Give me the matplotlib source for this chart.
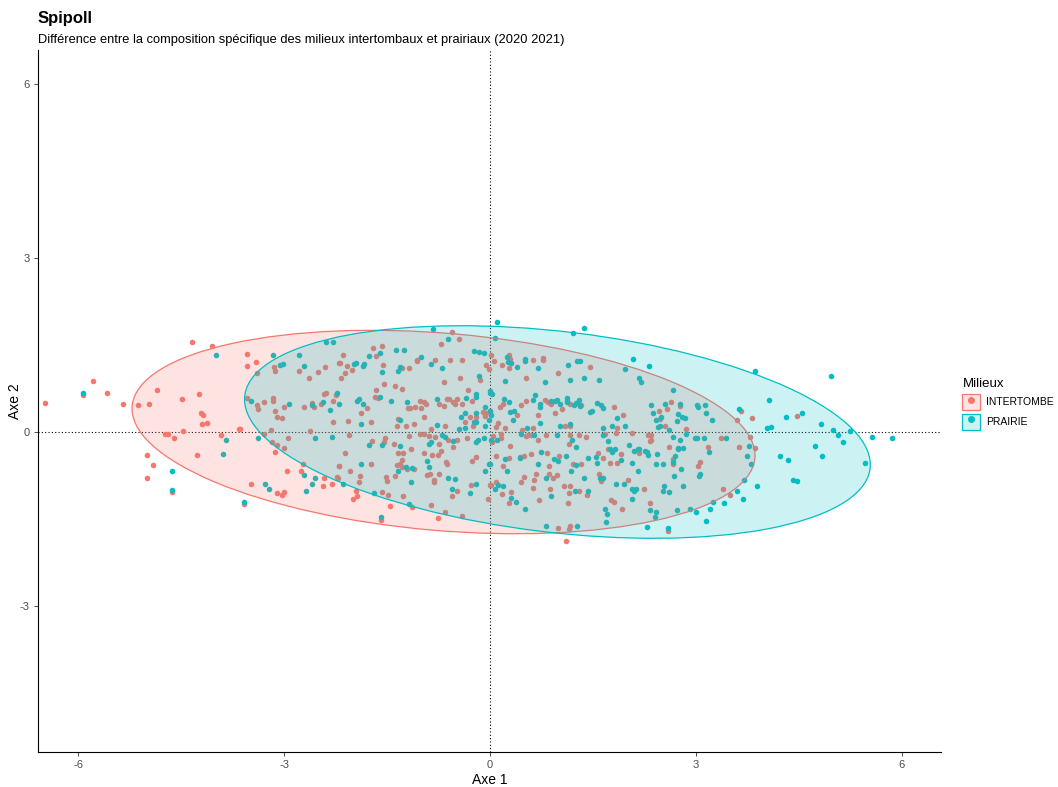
import matplotlib
matplotlib.use('Agg')
import matplotlib.pyplot as plt
from matplotlib.patches import Ellipse, Patch
from matplotlib.lines import Line2D
from matplotlib.legend_handler import HandlerTuple
import numpy as np

plt.rcParams['font.family'] = ['Liberation Sans', 'DejaVu Sans']
plt.rcParams['axes.unicode_minus'] = False

groups = ['INTERTOMBE', 'PRAIRIE']
colors = ['#F8766D', '#00BFC4']

inter_pts = [
    (-6.49, 0.50), (-5.93, 0.63), (-5.79, 0.88), (-5.59, 0.68), (-5.35, 0.49), (-5.13, 0.47), (-4.97, 0.48),
    (-4.86, 0.73), (-4.49, 0.57), (-4.48, 0.01), (-4.35, 1.56), (-4.74, -0.03), (-4.69, -0.03), (-4.61, -0.11),
    (-5.0, -0.39), (-4.92, -0.57), (-5.0, -0.80), (-4.63, -1.04),
    (-4.05, 1.49), (-3.54, 1.34), (-3.55, 1.14), (-3.42, 1.21), (-3.40, 1.01), (-3.15, 1.12), (-3.14, 1.06),
    (-2.78, 1.06), (-2.64, 0.94), (-2.51, 1.03), (-2.41, 1.12), (-2.21, 1.19), (-4.24, 0.65), (-4.22, 0.32),
    (-4.19, 0.30), (-4.20, 0.14), (-4.13, 0.16), (-3.66, 0.06), (-3.64, 0.05), (-3.54, 0.59), (-3.40, 0.46),
    (-3.38, 0.40), (-3.29, 0.51), (-3.17, 0.59), (-3.16, 0.53), (-3.14, 0.37), (-3.11, 0.26), (-3.03, 0.24),
    (-3.01, 0.44), (-2.72, 0.43), (-2.59, 0.50), (-2.57, 0.44), (-2.47, 0.48), (-2.42, 0.66), (-2.40, 0.67),
    (-2.29, 0.53), (-2.29, 0.18), (-2.24, 0.63), (-2.62, 0.02), (-3.20, 0.03),
    (-0.55, 1.72), (-0.45, 1.60), (-0.71, 1.52), (-1.58, 1.49), (-1.71, 1.45), (-1.67, 1.31), (-2.15, 1.33),
    (-2.19, 1.19), (-2.08, 1.14), (-2.01, 1.07), (-1.56, 1.16), (-2.12, 1.01), (-2.18, 0.94), (-1.28, 1.11),
    (-1.18, 1.11), (-1.07, 1.25), (-1.07, 1.22), (-0.81, 1.24), (-0.58, 1.24), (-0.41, 1.24), (-0.06, 1.16),
    (-0.02, 1.09), (-0.15, 0.90), (-0.44, 0.93), (-0.67, 0.87), (-1.55, 0.82), (-1.38, 0.79), (-1.29, 0.75),
    (-1.66, 0.73), (-1.68, 0.61), (-1.64, 0.58), (-1.80, 0.41), (-1.89, 0.33), (-2.07, 0.19), (-1.74, 0.18),
    (-1.20, 0.41), (-1.17, 0.41), (-1.10, 0.44), (-1.02, 0.53), (-0.97, 0.51), (-0.93, 0.49), (-1.01, 0.41),
    (-0.97, 0.26), (-1.35, 0.23), (-1.36, 0.10), (-1.22, 0.10), (-1.11, 0.13), (-0.86, 0.05), (-0.66, 0.10),
    (-0.75, 0.49), (-0.67, 0.45), (-0.63, 0.57), (-0.60, 0.57), (-0.54, 0.51), (-0.52, 0.49), (-0.48, 0.57),
    (-0.41, 0.49), (-0.27, 0.54), (-0.32, 0.73), (-0.30, 0.26), (-0.21, 0.26), (-0.36, 0.18), (-0.25, 0.10),
    (-0.10, 0.34), (-0.07, 0.28), (-0.06, 0.33),
    (0.01, 1.32), (0.06, 1.22), (0.17, 1.15), (0.27, 1.32), (0.29, 1.26), (0.28, 1.11), (0.62, 1.25),
    (0.77, 1.24), (0.77, 1.28), (1.45, 1.12), (0.99, 1.02), (0.52, 0.93), (0.15, 0.44), (0.18, 0.48),
    (0.39, 0.30), (0.45, 0.46), (0.52, 0.53), (0.80, 0.56), (0.84, 0.51), (0.88, 0.49), (1.04, 0.40),
    (0.95, 0.33), (0.69, 0.30), (1.16, 0.48), (1.33, 0.46), (1.81, 0.44), (1.93, 0.29), (0.11, 0.15),
    (0.08, 0.09), (0.21, 0.07), (0.62, 0.07), (0.46, 0.03), (1.09, 0.10), (1.16, 0.11), (1.85, 0.07), (0.0, 0.37),
    (2.64, 0.51), (2.58, 0.40), (2.46, 0.36), (2.77, 0.45), (2.47, 0.23), (2.55, 0.10), (2.85, 0.05),
    (3.66, 0.36), (3.59, 0.20), (3.82, 0.25), (4.47, 0.27),
    (2.30, -0.05), (2.34, -0.06), (2.33, -0.16), (2.34, -0.13), (3.36, -0.11), (3.79, -0.09), (3.86, -0.28),
    (3.63, -0.26), (2.60, -0.25), (3.18, -0.25), (2.17, -0.37), (2.67, -0.47), (2.67, -0.55), (3.06, -0.52),
    (3.03, -0.58), (2.24, -0.98), (3.40, -0.99), (3.49, -1.08), (2.33, -1.22), (2.59, -1.70),
    (0.04, -0.07), (0.16, -0.03), (0.16, -0.10), (0.03, -0.18), (0.52, -0.07), (0.55, -0.06), (0.59, -0.05),
    (0.70, -0.14), (0.82, -0.05), (1.17, -0.06), (1.29, -0.06), (1.39, -0.09), (1.15, -0.21), (1.67, -0.03),
    (1.83, -0.02), (2.06, -0.02), (1.71, -0.30), (1.78, -0.32), (1.90, -0.38), (1.57, -0.36), (1.64, -0.44),
    (1.74, -0.53), (1.85, -0.53), (0.29, -0.24), (0.08, -0.41), (0.28, -0.44), (0.44, -0.43), (0.50, -0.41),
    (0.59, -0.38), (0.83, -0.36), (1.01, -0.41), (0.85, -0.59), (1.20, -0.56), (1.32, -0.56), (0.18, -0.59),
    (0.67, -0.73), (0.85, -0.72), (0.92, -0.79), (0.98, -0.75), (0.49, -0.78), (0.45, -0.87), (0.64, -0.82),
    (1.59, -0.73), (1.62, -0.85), (2.01, -0.83), (0.01, -0.91), (0.08, -0.87), (0.31, -1.04), (0.17, -1.07),
    (0.63, -0.96), (0.87, -0.99), (1.07, -0.93), (1.17, -0.93), (1.15, -1.06), (1.30, -1.01), (1.41, -1.08),
    (-0.03, -1.15), (0.28, -1.23), (0.71, -1.18), (1.13, -1.22), (1.76, -1.18), (1.80, -1.20), (1.92, -1.33),
    (0.99, -1.66), (1.16, -1.62), (1.15, -1.68), (1.10, -1.88),
    (-2.06, -0.06), (-1.72, -0.16), (-1.55, -0.18), (-1.53, -0.10), (-1.40, -0.20), (-1.18, -0.07),
    (-1.16, -0.30), (-1.34, -0.37), (-1.27, -0.36), (-1.02, -0.03), (-0.96, -0.04), (-0.89, -0.07),
    (-0.80, -0.09), (-0.75, -0.21), (-0.61, -0.13), (-0.49, -0.13), (-0.34, -0.10), (-0.54, -0.26),
    (-0.97, -0.37), (-0.85, -0.40), (-0.76, -0.40), (-0.71, -0.33), (-2.12, -0.36), (-1.73, -0.55),
    (-1.29, -0.49), (-1.32, -0.55), (-1.36, -0.57), (-1.29, -0.60), (-1.21, -0.64), (-1.11, -0.63),
    (-0.65, -0.52), (-0.63, -0.55), (-0.21, -0.43), (-0.26, -0.50), (-2.20, -0.59), (-2.05, -0.68),
    (-1.90, -0.76), (-1.91, -0.86), (-2.22, -0.79), (-1.52, -0.78), (-1.50, -0.85), (-1.39, -0.76),
    (-0.92, -0.75), (-0.88, -0.72), (-0.74, -0.73), (-0.82, -0.83), (-0.82, -0.87), (-0.48, -1.02),
    (-0.55, -1.10), (-0.28, -0.91), (-0.0, -0.91), (-1.96, -1.01), (-1.94, -1.10), (-2.0, -1.16),
    (-1.58, -1.04), (-1.49, -1.08), (-1.27, -1.10), (-1.46, -1.28), (-1.14, -1.30), (-0.86, -1.26),
    (-0.66, -1.38), (-0.76, -1.48), (-0.41, -1.45), (-1.59, -1.52),
    (-3.92, -0.06), (-3.29, -0.03), (-4.27, -0.39), (-3.18, -0.17), (-3.10, -0.23), (-3.0, -0.28),
    (-3.13, -0.34), (-2.94, -0.11), (-2.96, -0.67), (-2.73, -0.56), (-2.76, -0.67), (-2.42, -0.80),
    (-2.44, -0.93), (-2.31, -0.89), (-2.23, -0.78), (-2.21, -0.59), (-3.49, -0.90), (-3.10, -1.05),
    (-3.03, -1.08), (-3.0, -1.03), (-3.59, -1.25),
]

prairie_pts = [
    (-5.93, 0.67), (-4.63, -0.67), (-4.63, -1.0),
    (-4.0, 1.32), (-3.17, 1.32), (-3.06, 1.16), (-3.02, 1.17), (-2.78, 1.32), (-2.71, 1.14), (-2.40, 1.56),
    (-2.29, 1.55), (-3.48, 0.53), (-2.93, 0.49), (-2.60, 0.47), (-2.43, 0.52), (-2.33, 0.38), (-2.23, 0.68),
    (-2.20, 0.48),
    (-0.84, 1.78), (-0.62, 1.60), (-1.37, 1.41), (-1.25, 1.41), (-1.60, 1.36), (-1.77, 1.31), (-1.99, 1.18),
    (-1.96, 1.19), (-1.85, 1.14), (-1.84, 1.17), (-1.57, 1.04), (-1.32, 1.13), (-1.35, 1.06), (-1.01, 1.29),
    (-0.86, 1.17), (-0.70, 1.10), (-0.23, 1.39), (-0.17, 1.38), (-0.09, 1.36), (-0.17, 0.96), (-1.60, 0.60),
    (-1.91, 0.57), (-1.94, 0.53), (-1.85, 0.48), (-1.89, 0.14), (-1.45, 0.53), (-1.21, 0.51), (-1.32, 0.21),
    (-0.77, 0.12), (-0.77, 0.57), (-0.35, 0.59), (-0.21, 0.66), (-0.21, 0.61), (-0.36, 0.33), (-0.42, 0.26),
    (-0.20, 0.33), (-0.24, 0.17), (-0.21, 0.17), (-0.36, 0.07), (-0.45, 0.06), (-0.07, 0.10), (-0.08, 0.43),
    (-0.02, 0.21), (-0.01, 0.67),
    (0.10, 1.90), (1.36, 1.79), (1.20, 1.70), (0.07, 1.62), (2.08, 1.26), (1.96, 1.09), (0.25, 1.29),
    (0.26, 1.20), (0.31, 1.19), (0.39, 1.13), (0.51, 1.26), (0.51, 1.23), (0.70, 1.10), (1.14, 1.16),
    (1.26, 1.22), (1.31, 1.22), (0.22, 0.88), (0.80, 0.87), (1.17, 0.90), (1.37, 0.94), (1.59, 0.90),
    (0.0, 0.71), (0.03, 0.66), (0.20, 0.57), (0.28, 0.51), (0.34, 0.36), (0.29, 0.34), (0.63, 0.56),
    (0.66, 0.63), (0.72, 0.49), (0.72, 0.44), (0.88, 0.53), (0.94, 0.54), (0.97, 0.56), (1.02, 0.48),
    (1.12, 0.59), (1.12, 0.53), (1.12, 0.51), (1.22, 0.46), (1.25, 0.50), (1.30, 0.56), (1.28, 0.50),
    (1.31, 0.45), (1.45, 0.34), (1.49, 0.36), (1.55, 0.50), (1.62, 0.46), (1.65, 0.41), (1.85, 0.24),
    (0.73, 0.15), (0.33, 0.20), (0.54, 0.07), (1.02, 0.11), (1.16, 0.13), (1.65, 0.07), (1.78, 0.11),
    (1.96, 0.10), (0.0, 0.36), (0.01, 0.30),
    (2.32, 1.14), (3.86, 1.06), (2.17, 0.94), (2.20, 0.87), (2.67, 0.72), (2.35, 0.47), (2.55, 0.49),
    (2.77, 0.49), (2.38, 0.32), (2.49, 0.26), (2.41, 0.20), (2.45, 0.08), (2.48, 0.10), (2.60, 0.03),
    (2.73, 0.31), (2.72, 0.19), (2.80, 0.26), (2.84, 0.24), (3.02, 0.47), (3.03, 0.44), (3.13, 0.47),
    (3.15, 0.33), (3.23, 0.20), (3.63, 0.40), (4.07, 0.55), (4.31, 0.26), (4.03, 0.07), (4.09, 0.09),
    (4.97, 0.96), (4.54, 0.32), (4.82, 0.13), (5.0, 0.04), (5.25, 0.02),
    (5.07, -0.06), (5.56, -0.09), (5.85, -0.11), (4.73, -0.24), (5.14, -0.18), (4.83, -0.42), (5.46, -0.53),
    (4.34, -0.48), (4.42, -0.82), (4.47, -0.84),
    (2.67, -0.09), (2.77, -0.14), (2.85, -0.03), (2.98, -0.11), (3.01, -0.10), (3.11, -0.10), (3.43, -0.10),
    (3.77, -0.24), (3.74, -0.41), (3.80, -0.55), (4.23, -0.41), (3.19, -0.34), (2.17, -0.30), (2.25, -0.32),
    (2.28, -0.34), (2.30, -0.39), (2.43, -0.38), (2.74, -0.27), (2.73, -0.30), (2.81, -0.28), (2.70, -0.42),
    (2.66, -0.51), (2.41, -0.56), (2.52, -0.56), (2.78, -0.64), (3.06, -0.73), (3.05, -0.76), (2.68, -0.76),
    (2.16, -0.68), (2.54, -0.93), (2.52, -1.02), (2.61, -1.04), (2.81, -0.93), (3.59, -1.01), (3.70, -0.83),
    (3.89, -0.93), (3.69, -1.16), (3.41, -1.22), (3.25, -1.21), (2.33, -1.35), (2.41, -1.38), (2.40, -1.47),
    (2.72, -1.34), (2.91, -1.33), (3.0, -1.38), (3.20, -1.33), (3.15, -1.54), (2.28, -1.64), (2.59, -1.65),
    (0.10, -0.14), (0.01, -0.14), (0.45, -0.03), (0.64, -0.05), (0.97, -0.05), (1.19, -0.14), (1.25, -0.25),
    (1.65, -0.06), (1.71, -0.16), (2.03, -0.22), (2.10, -0.32), (2.16, -0.29), (1.75, -0.30), (1.82, -0.30),
    (1.78, -0.34), (1.54, -0.43), (1.91, -0.49), (2.06, -0.53), (1.55, -0.53), (1.42, -0.44), (0.0, -0.56),
    (0.21, -0.47), (0.43, -0.45), (0.74, -0.35), (1.11, -0.42), (0.93, -0.47), (0.99, -0.50), (0.70, -0.56),
    (1.25, -0.57), (0.25, -0.67), (0.82, -0.80), (1.18, -0.67), (1.37, -0.80), (1.60, -0.79), (1.65, -0.79),
    (1.84, -0.90), (1.95, -0.89), (2.06, -0.98), (2.10, -1.02), (2.12, -0.99), (2.06, -1.15), (0.12, -0.92),
    (0.18, -0.93), (0.07, -0.99), (0.88, -1.11), (1.24, -1.01), (1.42, -1.01), (0.30, -1.14), (0.38, -1.20),
    (0.51, -1.32), (1.68, -1.33), (1.70, -1.42), (1.69, -1.56), (0.81, -1.62), (1.27, -1.62),
    (-1.77, -0.23), (-1.57, -0.23), (-1.32, -0.24), (-0.70, -0.05), (-0.66, -0.09), (-0.89, -0.20),
    (-0.86, -0.17), (-0.54, -0.16), (-0.20, -0.17), (-0.18, -0.14), (-0.09, -0.10), (-1.89, -0.56),
    (-1.22, -0.60), (-1.14, -0.62), (-1.35, -0.67), (-0.92, -0.50), (-0.89, -0.60), (-0.02, -0.56),
    (-0.07, -0.68), (-2.15, -0.89), (-1.15, -0.87), (-0.61, -0.79), (-0.52, -0.81), (-0.55, -0.98),
    (-0.29, -1.05), (-0.20, -0.90), (-1.69, -1.06), (-1.19, -1.24), (-1.59, -1.47),
    (-3.85, -0.14), (-3.90, -0.38), (-3.38, -0.11), (-2.56, -0.11), (-2.30, -0.09), (-2.71, -0.75),
    (-2.56, -0.80), (-2.60, -0.90), (-2.68, -1.02), (-3.28, -0.90), (-3.22, -0.98), (-3.59, -1.21),
]

# ellipses (center x, center y, width, height, angle in degrees)
ell_center = [(-0.68, 0.0), (0.98, 0.0)]
ell_width = [9.12, 9.20]
ell_height = [3.40, 3.46]
ell_angle = [-5.9, -8.2]

fig = plt.figure(figsize=(10.58, 7.87), dpi=100)
ax = fig.add_axes([38/1058, 1 - 752/787, (941 - 38)/1058, (752 - 50)/787])

for i, pts in enumerate([inter_pts, prairie_pts]):
    pts = np.array(pts)
    ax.scatter(pts[:, 0], pts[:, 1], s=16, color=colors[i], linewidths=0, zorder=3)

for i in range(2):
    e = Ellipse(ell_center[i], ell_width[i], ell_height[i], angle=ell_angle[i],
                facecolor=colors[i], alpha=0.2, edgecolor='none', zorder=4)
    ax.add_patch(e)
    e2 = Ellipse(ell_center[i], ell_width[i], ell_height[i], angle=ell_angle[i],
                 facecolor='none', edgecolor=colors[i], linewidth=0.9, zorder=4)
    ax.add_patch(e2)

ax.axhline(0, color='black', linestyle=(0, (1, 2)), linewidth=0.8, zorder=2)
ax.axvline(0, color='black', linestyle=(0, (1, 2)), linewidth=0.8, zorder=2)

ax.set_xlim(-6.59, 6.57)
ax.set_ylim(-5.52, 6.59)
ax.set_xticks([-6, -3, 0, 3, 6])
ax.set_yticks([-3, 0, 3, 6])
ax.tick_params(colors='#333333', labelcolor='#4d4d4d', labelsize=8, length=3, width=0.6, pad=3)
for s in ['top', 'right']:
    ax.spines[s].set_visible(False)
for s in ['left', 'bottom']:
    ax.spines[s].set_color('black')
    ax.spines[s].set_linewidth(0.8)
ax.set_xlabel('Axe 1', fontsize=10, labelpad=2)
ax.set_ylabel('Axe 2', fontsize=10, labelpad=-2)

fig.text(38/1058, 1 - 18/787, 'Spipoll', fontsize=12, fontweight='bold', va='center')
fig.text(38/1058, 1 - 40/787, 'Différence entre la composition spécifique des milieux intertombaux et prairiaux (2020 2021)',
         fontsize=9.3, va='center')

handles = []
for c in colors:
    p = Patch(facecolor=c, alpha=0.2, edgecolor='none')
    p2 = Patch(facecolor='none', edgecolor=c, linewidth=0.9)
    m = Line2D([], [], marker='o', color=c, linestyle='none', markersize=4)
    handles.append((p, p2, m))
leg = fig.legend(handles, groups, title='Milieux', loc='upper left',
                 bbox_to_anchor=(953/1058, 1 - 369/787), frameon=False,
                 handler_map={tuple: HandlerTuple(ndivide=1, pad=0)},
                 fontsize=7.5, title_fontsize=9.5, handlelength=1.7, handleheight=2.0,
                 handletextpad=0.6, labelspacing=0.35)
leg._legend_box.align = 'left'

fig.savefig('out.png', dpi=100)
